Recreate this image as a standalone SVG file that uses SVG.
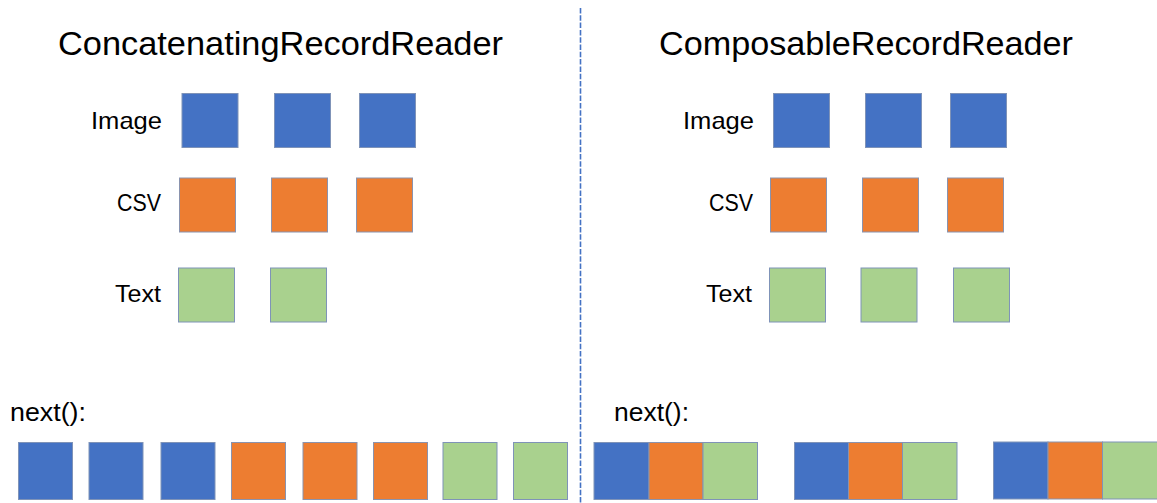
<svg xmlns="http://www.w3.org/2000/svg" width="1157" height="503" viewBox="0 0 1157 503">
  <style>
    .t { font-family: "Liberation Sans", Arial, sans-serif; fill: #000; }
    .title { font-size: 34px; }
    .lbl { font-size: 24px; text-anchor: end; }
    .nx { font-size: 25px; }
    .b { fill: #4472C4; stroke: #7F93B8; stroke-width: 1; }
    .o { fill: #ED7D31; stroke: #8A93AE; stroke-width: 1; }
    .g { fill: #A9D18E; stroke: #7F93B8; stroke-width: 1; }
    .div { stroke: #4472C4; stroke-width: 1.6; stroke-dasharray: 5.5 1.8; fill: none; }
  </style>
  <rect width="1157" height="503" fill="#fff"/>

  <g id="connectors">
    <line class="div" x1="580.5" y1="8" x2="580.5" y2="503"/>
  </g>

  <!-- Left panel -->
  <g id="left-title"><text class="t title" x="58" y="55" textLength="445" lengthAdjust="spacingAndGlyphs">ConcatenatingRecordReader</text></g>
  <g id="left-labels">
    <text class="t lbl" x="162" y="129" textLength="71" lengthAdjust="spacingAndGlyphs">Image</text>
    <text class="t lbl" x="161" y="211" textLength="44" lengthAdjust="spacingAndGlyphs">CSV</text>
    <text class="t lbl" x="161" y="302" textLength="46" lengthAdjust="spacingAndGlyphs">Text</text>
  </g>
  <g id="left-image">
    <rect class="b" x="182" y="93.5" width="56" height="54"/>
    <rect class="b" x="274.5" y="93.5" width="56" height="54"/>
    <rect class="b" x="359.5" y="93.5" width="56" height="54"/>
  </g>
  <g id="left-csv">
    <rect class="o" x="179.5" y="178" width="56" height="54"/>
    <rect class="o" x="271.5" y="178" width="56" height="54"/>
    <rect class="o" x="356.5" y="178" width="56" height="54"/>
  </g>
  <g id="left-text">
    <rect class="g" x="178.5" y="268" width="56" height="54"/>
    <rect class="g" x="270.5" y="268" width="56" height="54"/>
  </g>
  <g id="left-next">
    <text class="t nx" x="10" y="421" textLength="76" lengthAdjust="spacingAndGlyphs">next():</text>
    <rect class="b" x="18.5" y="442.5" width="54" height="57"/>
    <rect class="b" x="89" y="442.5" width="54" height="57"/>
    <rect class="b" x="161" y="442.5" width="54" height="57"/>
    <rect class="o" x="231.5" y="442.5" width="54" height="57"/>
    <rect class="o" x="303" y="442.5" width="54" height="57"/>
    <rect class="o" x="373.5" y="442.5" width="54" height="57"/>
    <rect class="g" x="443" y="442.5" width="54" height="57"/>
    <rect class="g" x="513.5" y="442.5" width="54" height="57"/>
  </g>

  <!-- Right panel -->
  <g id="right-title"><text class="t title" x="659" y="55" textLength="414" lengthAdjust="spacingAndGlyphs">ComposableRecordReader</text></g>
  <g id="right-labels">
    <text class="t lbl" x="754" y="129" textLength="71" lengthAdjust="spacingAndGlyphs">Image</text>
    <text class="t lbl" x="753" y="211" textLength="44" lengthAdjust="spacingAndGlyphs">CSV</text>
    <text class="t lbl" x="752" y="302" textLength="46" lengthAdjust="spacingAndGlyphs">Text</text>
  </g>
  <g id="right-image">
    <rect class="b" x="773.5" y="93.5" width="56" height="54"/>
    <rect class="b" x="865.5" y="93.5" width="56" height="54"/>
    <rect class="b" x="950.5" y="93.5" width="56" height="54"/>
  </g>
  <g id="right-csv">
    <rect class="o" x="770.5" y="178" width="56" height="54"/>
    <rect class="o" x="862.5" y="178" width="56" height="54"/>
    <rect class="o" x="947.5" y="178" width="56" height="54"/>
  </g>
  <g id="right-text">
    <rect class="g" x="769.5" y="268" width="56" height="54"/>
    <rect class="g" x="861" y="268" width="56" height="54"/>
    <rect class="g" x="953.5" y="268" width="56" height="54"/>
  </g>
  <g id="right-next">
    <text class="t nx" x="614" y="421" textLength="75" lengthAdjust="spacingAndGlyphs">next():</text>
  </g>
  <g id="record-1">
    <rect class="b" x="594" y="442.5" width="55" height="57"/>
    <rect class="o" x="649" y="442.5" width="54" height="57"/>
    <rect class="g" x="703" y="442.5" width="54.5" height="57"/>
  </g>
  <g id="record-2">
    <rect class="b" x="794.5" y="442.5" width="54" height="57"/>
    <rect class="o" x="848.5" y="442.5" width="54" height="57"/>
    <rect class="g" x="902.5" y="442.5" width="54.5" height="57"/>
  </g>
  <g id="record-3">
    <rect class="b" x="993.5" y="442" width="54.5" height="57"/>
    <rect class="o" x="1048" y="442" width="54.5" height="57"/>
    <rect class="g" x="1102.5" y="442" width="55" height="57"/>
  </g>
</svg>
